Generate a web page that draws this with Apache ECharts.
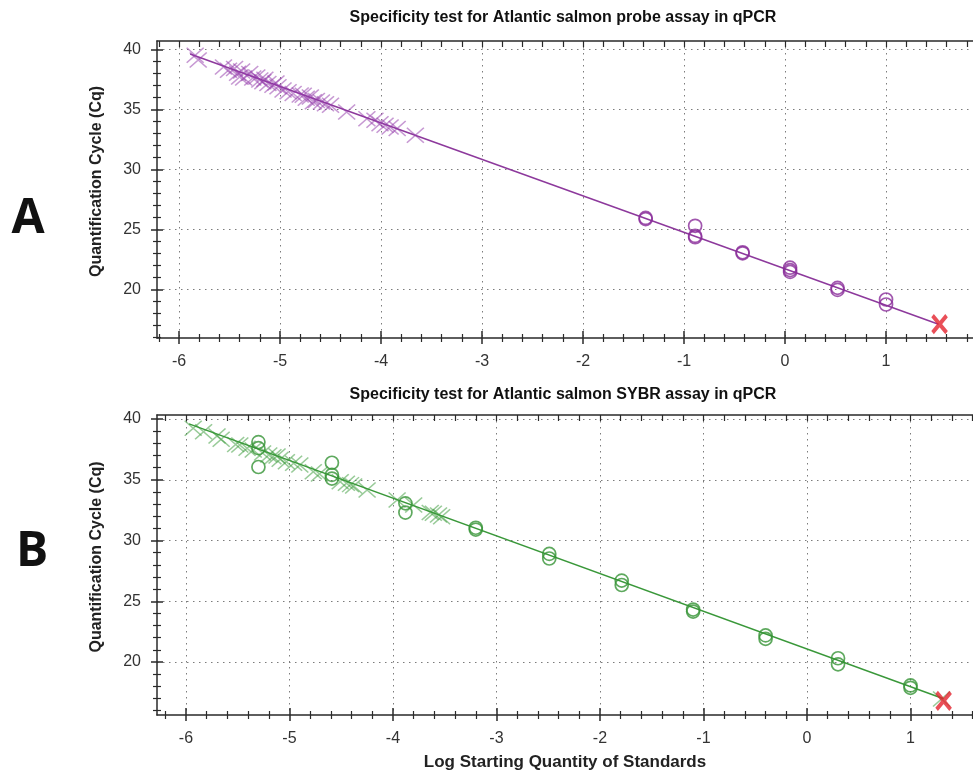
<!DOCTYPE html>
<html>
<head>
<meta charset="utf-8">
<script src="https://cdn.jsdelivr.net/npm/echarts@6/dist/echarts.min.js"></script>
<style>
  html, body { margin: 0; padding: 0; background: #ffffff; }
  #chart { width: 973px; height: 773px; }
</style>
</head>
<body>
<div id="chart"></div>
<script>
// ---- Panel A: probe assay (log starting quantity, Cq) ----
const probeUnknowns = [
  [-5.84, 39.5], [-5.81, 39.1], [-5.56, 38.53], [-5.51, 38.26], [-5.45, 38.4], [-5.42, 38.0],
  [-5.40, 37.7], [-5.38, 38.2], [-5.36, 37.6], [-5.30, 37.98], [-5.27, 37.6], [-5.23, 37.7],
  [-5.20, 37.43], [-5.17, 37.29], [-5.15, 37.5], [-5.12, 37.15], [-5.07, 37.01], [-5.04, 37.2],
  [-5.02, 36.87], [-4.97, 36.6], [-4.92, 36.46], [-4.87, 36.32], [-4.80, 36.18], [-4.77, 36.16],
  [-4.74, 35.91], [-4.70, 36.02], [-4.67, 35.63], [-4.64, 35.74], [-4.59, 35.6], [-4.55, 35.46],
  [-4.50, 35.33], [-4.34, 34.77], [-4.14, 34.22], [-4.06, 34.08], [-4.01, 33.8], [-3.96, 33.67],
  [-3.91, 33.53], [-3.84, 33.39], [-3.66, 32.84]
];
const probeStandards = [
  [-1.38, 25.85], [-1.38, 25.95], [-0.89, 25.29], [-0.89, 24.34], [-0.89, 24.45],
  [-0.42, 23.0], [-0.42, 23.08], [0.05, 21.8], [0.05, 21.6], [0.05, 21.45],
  [0.52, 20.12], [0.52, 19.95], [1.0, 19.15], [1.0, 18.73]
];
const probeFit = [[-5.89, 39.61], [1.52, 17.08]];
const probeOutlier = [[1.53, 17.1]];

// ---- Panel B: SYBR assay ----
const sybrUnknowns = [
  [-5.93, 39.23], [-5.83, 38.96], [-5.70, 38.6], [-5.66, 38.33], [-5.52, 37.9], [-5.48, 37.86],
  [-5.41, 37.59], [-5.35, 37.45], [-5.26, 37.2], [-5.20, 37.04], [-5.16, 36.9], [-5.12, 36.95],
  [-5.09, 36.68], [-5.03, 36.49], [-4.96, 36.35], [-4.90, 36.21], [-4.77, 35.66], [-4.71, 35.47],
  [-4.51, 34.84], [-4.45, 34.71], [-4.41, 34.6], [-4.38, 34.49], [-4.25, 34.16], [-3.96, 33.33],
  [-3.80, 32.92], [-3.64, 32.3], [-3.61, 32.24], [-3.56, 32.1], [-3.53, 31.96], [1.30, 16.95]
];
const sybrStandards = [
  [-5.30, 38.1], [-5.30, 37.6], [-5.30, 36.05], [-4.59, 36.4], [-4.59, 35.4], [-4.59, 35.1],
  [-3.88, 33.06], [-3.88, 32.3], [-3.20, 31.05], [-3.20, 30.9], [-2.49, 28.9], [-2.49, 28.52],
  [-1.79, 26.7], [-1.79, 26.34], [-1.10, 24.32], [-1.10, 24.15], [-0.40, 22.19], [-0.40, 21.91],
  [0.30, 20.31], [0.30, 19.81], [1.00, 18.07], [1.00, 17.88]
];
const sybrFit = [[-5.97, 39.6], [1.32, 16.98]];
const sybrOutlier = [[1.32, 16.8]];

// ---- Axis ticks ----
const xMajorTicks = [-6, -5, -4, -3, -2, -1, 0, 1];
const yMajorTicks = [20, 25, 30, 35, 40];

const panelTitles = [
  'Specificity test for Atlantic salmon probe assay in qPCR',
  'Specificity test for Atlantic salmon SYBR assay in qPCR'
];
const yAxisTitle = 'Quantification Cycle (Cq)';
const xAxisTitle = 'Log Starting Quantity of Standards';

const FONT = '"Liberation Sans", Arial, sans-serif';
const AXIS_COLOR = '#2a2a2a';
const GRID_COLOR = '#7c7c7c';

// minor tick positions between the labelled ones
function minorTicks(lo, hi, step, every) {
  const out = [];
  for (let i = Math.ceil(lo / step); i <= Math.floor(hi / step); i++) {
    if (i % every !== 0) out.push(Math.round(i * step * 1000) / 1000);
  }
  return out;
}

const panels = [
  { grid: { left: 157, top: 41, width: 816, height: 297 }, x: [-6.218, 1.861], y: [15.94, 40.69], xName: '' },
  { grid: { left: 157, top: 415, width: 816, height: 300 }, x: [-6.28, 1.604], y: [15.64, 40.33], xName: xAxisTitle }
];

function tickOnlyAxis(gridIndex, range, position, values, inside, length, width) {
  return {
    type: 'value', gridIndex, position, min: range[0], max: range[1], silent: true,
    axisLine: { show: false, onZero: false },
    axisLabel: { show: false },
    splitLine: { show: false },
    axisTick: { show: true, inside, length, customValues: values, lineStyle: { color: AXIS_COLOR, width } }
  };
}

const xAxes = [];
const yAxes = [];
const xIdx = [];
const yIdx = [];
panels.forEach((p, g) => {
  const xMinor = minorTicks(p.x[0], p.x[1], 0.2, 5);
  const yMinor = minorTicks(p.y[0], p.y[1], 1, 5);
  xIdx.push(xAxes.length);
  xAxes.push({
    type: 'value', gridIndex: g, position: 'bottom', min: p.x[0], max: p.x[1],
    name: p.xName, nameLocation: 'middle', nameGap: 39,
    nameTextStyle: { fontFamily: FONT, fontWeight: 'bold', fontSize: 17, color: '#222' },
    axisLine: { show: true, onZero: false, lineStyle: { color: AXIS_COLOR, width: 1.5 } },
    axisTick: { show: true, inside: false, length: 6, customValues: xMajorTicks, lineStyle: { color: AXIS_COLOR, width: 1.5 } },
    axisLabel: { show: true, customValues: xMajorTicks, margin: 16, fontFamily: FONT, fontSize: 16, color: '#333' },
    splitLine: { show: true, lineStyle: { color: GRID_COLOR, width: 1, type: [1.5, 4.5] } }
  });
  xAxes.push(tickOnlyAxis(g, p.x, 'bottom', xMajorTicks, true, 7, 1.5));
  xAxes.push(tickOnlyAxis(g, p.x, 'bottom', xMinor, false, 4, 1.2));
  xAxes.push(tickOnlyAxis(g, p.x, 'bottom', xMinor, true, 4, 1.2));
  const frameTop = tickOnlyAxis(g, p.x, 'top', xMajorTicks.concat(xMinor), true, 6, 1.2);
  frameTop.axisLine = { show: true, onZero: false, lineStyle: { color: AXIS_COLOR, width: 1.5 } };
  xAxes.push(frameTop);

  yIdx.push(yAxes.length);
  yAxes.push({
    type: 'value', gridIndex: g, position: 'left', min: p.y[0], max: p.y[1],
    name: yAxisTitle, nameLocation: 'middle', nameGap: 52,
    nameTextStyle: { fontFamily: FONT, fontWeight: 'bold', fontSize: 16, color: '#222', padding: [0, 0, 0, 16] },
    axisLine: { show: true, onZero: false, lineStyle: { color: AXIS_COLOR, width: 1.5 } },
    axisTick: { show: true, inside: false, length: 6, customValues: yMajorTicks, lineStyle: { color: AXIS_COLOR, width: 1.5 } },
    axisLabel: { show: true, customValues: yMajorTicks, margin: 16, fontFamily: FONT, fontSize: 16, color: '#333' },
    splitLine: { show: true, lineStyle: { color: GRID_COLOR, width: 1, type: [1.5, 4.5] } }
  });
  yAxes.push(tickOnlyAxis(g, p.y, 'left', yMajorTicks, true, 6, 1.5));
  yAxes.push(tickOnlyAxis(g, p.y, 'left', yMinor, false, 4, 1.2));
  yAxes.push(tickOnlyAxis(g, p.y, 'left', yMinor, true, 4, 1.2));
});

const CROSS = 'path://M0,0L12,11M12,0L0,11';
const BOLD_X = 'path://M0,0L10,12M10,0L0,12';

function panelSeries(g, unknowns, standards, fit, outlier, colors) {
  const common = { xAxisIndex: xIdx[g], yAxisIndex: yIdx[g], silent: true, animation: false };
  return [
    Object.assign({
      type: 'line', data: fit, showSymbol: false, symbol: 'none', z: 2,
      lineStyle: { color: colors.line, width: 1.5 }
    }, common),
    Object.assign({
      type: 'scatter', data: unknowns, symbol: CROSS, symbolSize: [17, 15], z: 3,
      itemStyle: { color: 'rgba(0,0,0,0)', borderColor: colors.cross, borderWidth: 1.5 }
    }, common),
    Object.assign({
      type: 'scatter', data: standards, symbol: 'circle', symbolSize: 13, z: 4,
      itemStyle: { color: 'rgba(0,0,0,0)', borderColor: colors.circle, borderWidth: 1.7 }
    }, common),
    Object.assign({
      type: 'scatter', data: outlier, symbol: BOLD_X, symbolSize: [14, 17], z: 5,
      itemStyle: { color: 'rgba(0,0,0,0)', borderColor: '#e3232e', borderWidth: 4 }
    }, common)
  ];
}

const series = [].concat(
  panelSeries(0, probeUnknowns, probeStandards, probeFit, probeOutlier,
    { line: '#8d399c', cross: 'rgba(148, 60, 170, 0.65)', circle: '#8a2d9a' }),
  panelSeries(1, sybrUnknowns, sybrStandards, sybrFit, sybrOutlier,
    { line: '#3a983a', cross: 'rgba(60, 156, 60, 0.65)', circle: '#369436' })
);

function label(text, x, y, font) {
  return {
    type: 'text', x, y, silent: true,
    style: { text, font, fill: '#111', align: 'center', textAlign: 'center', verticalAlign: 'middle', textVerticalAlign: 'middle' }
  };
}

const chart = echarts.init(document.getElementById('chart'), null, { renderer: 'canvas' });
chart.setOption({
  backgroundColor: '#ffffff',
  animation: false,
  grid: panels.map(p => Object.assign({ containLabel: false }, p.grid)),
  xAxis: xAxes,
  yAxis: yAxes,
  series,
  graphic: [
    label(panelTitles[0], 563, 18, 'bold 16px "Liberation Sans", Arial, sans-serif'),
    label(panelTitles[1], 563, 395, 'bold 16px "Liberation Sans", Arial, sans-serif'),
    label('A', 28, 219, 'bold 48px "Open Sans", sans-serif'),
    label('B', 32, 552, 'bold 48px "Open Sans", sans-serif')
  ]
});
</script>
</body>
</html>
